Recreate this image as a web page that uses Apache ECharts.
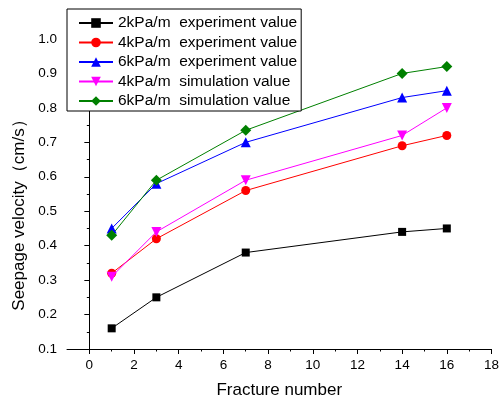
<!DOCTYPE html>
<html>
<head>
<meta charset="utf-8">
<script src="https://cdn.jsdelivr.net/npm/echarts@6/dist/echarts.min.js"></script>
<style>
  html, body { margin: 0; padding: 0; background: #fff; }
  #chart { width: 502px; height: 404px; }
</style>
</head>
<body>
<div id="chart"></div>
<script>
var fractures = [1, 3, 7, 14, 16]
var exp2 = [0.16, 0.25, 0.38, 0.44, 0.45]
var exp4 = [0.32, 0.42, 0.56, 0.69, 0.72]
var exp6 = [0.45, 0.58, 0.70, 0.83, 0.85]
var sim4 = [0.31, 0.44, 0.59, 0.72, 0.80]
var sim6 = [0.43, 0.59, 0.735, 0.90, 0.92]
var xMajor = [0, 2, 4, 6, 8, 10, 12, 14, 16, 18]
var xMinor = [1, 3, 5, 7, 9, 11, 13, 15, 17]

function pairs(vals) {
  var out = []
  for (var i = 0; i < fractures.length; i++) {
    out.push([fractures[i], vals[i]])
  }
  return out
}

function line(name, color, symbol, size, vals, rotate) {
  return {
    name: name,
    type: 'line',
    data: pairs(vals),
    symbol: symbol,
    symbolSize: size,
    symbolRotate: rotate || 0,
    lineStyle: { color: color, width: 1 },
    itemStyle: { color: color },
    animation: false
  }
}

var font = 'Liberation Sans, Arial, sans-serif'
var myChart = echarts.init(document.getElementById('chart'))
var option = {
  backgroundColor: '#fff',
  textStyle: { fontFamily: font },
  grid: { left: 67, right: 7, top: 39, bottom: 53 },
  legend: {
    orient: 'vertical',
    left: 67,
    top: 9,
    padding: [6, 4, 2, 11],
    itemWidth: 34,
    itemHeight: 12,
    itemGap: 3.5,
    borderColor: '#000',
    borderWidth: 1,
    backgroundColor: '#fff',
    textStyle: { fontFamily: font, fontSize: 15.5, color: '#000' },
    data: ['2kPa/m  experiment value', '4kPa/m  experiment value', '6kPa/m  experiment value',
      '4kPa/m  simulation value', '6kPa/m  simulation value']
  },
  xAxis: [{
    type: 'value',
    min: -1,
    max: 18,
    name: 'Fracture number',
    nameLocation: 'middle',
    nameGap: 33,
    nameTextStyle: { fontFamily: font, fontSize: 17, color: '#000' },
    axisLine: { lineStyle: { color: '#000', width: 1 } },
    axisTick: { customValues: xMajor, length: 5, lineStyle: { color: '#000' } },
    axisLabel: { customValues: xMajor, margin: 9, fontFamily: font, fontSize: 13.5, color: '#000' },
    splitLine: { show: false }
  }, {
    type: 'value',
    min: -1,
    max: 18,
    position: 'bottom',
    axisLine: { show: false },
    axisTick: { show: true, customValues: xMinor, length: 2.5, lineStyle: { color: '#000' } },
    axisLabel: { show: true, customValues: xMinor, formatter: function () { return '' } },
    splitLine: { show: false }
  }],
  yAxis: {
    type: 'value',
    min: 0.1,
    max: 1.0,
    interval: 0.1,
    name: 'Seepage velocity（cm/s）',
    nameLocation: 'middle',
    nameGap: 38,
    nameTextStyle: { fontFamily: font, fontSize: 17, color: '#000', padding: [0, 34, 0, 0] },
    axisLine: { show: true, lineStyle: { color: '#000', width: 1 } },
    axisTick: { show: true, length: 5, lineStyle: { color: '#000' } },
    minorTick: { show: true, splitNumber: 2, length: 2.5, lineStyle: { color: '#000' } },
    axisLabel: {
      margin: 10, fontFamily: font, fontSize: 13.5, color: '#000',
      formatter: function (v) { return v.toFixed(1) }
    },
    splitLine: { show: false }
  },
  series: [
    line('2kPa/m  experiment value', '#000000', 'rect', 8, exp2),
    line('4kPa/m  experiment value', '#ff0000', 'circle', 9, exp4),
    line('6kPa/m  experiment value', '#0000ff', 'triangle', 10, exp6),
    line('4kPa/m  simulation value', '#ff00ff', 'triangle', 10, sim4, 180),
    line('6kPa/m  simulation value', '#008000', 'diamond', 11, sim6)
  ]
}
myChart.setOption(option)
</script>
</body>
</html>
